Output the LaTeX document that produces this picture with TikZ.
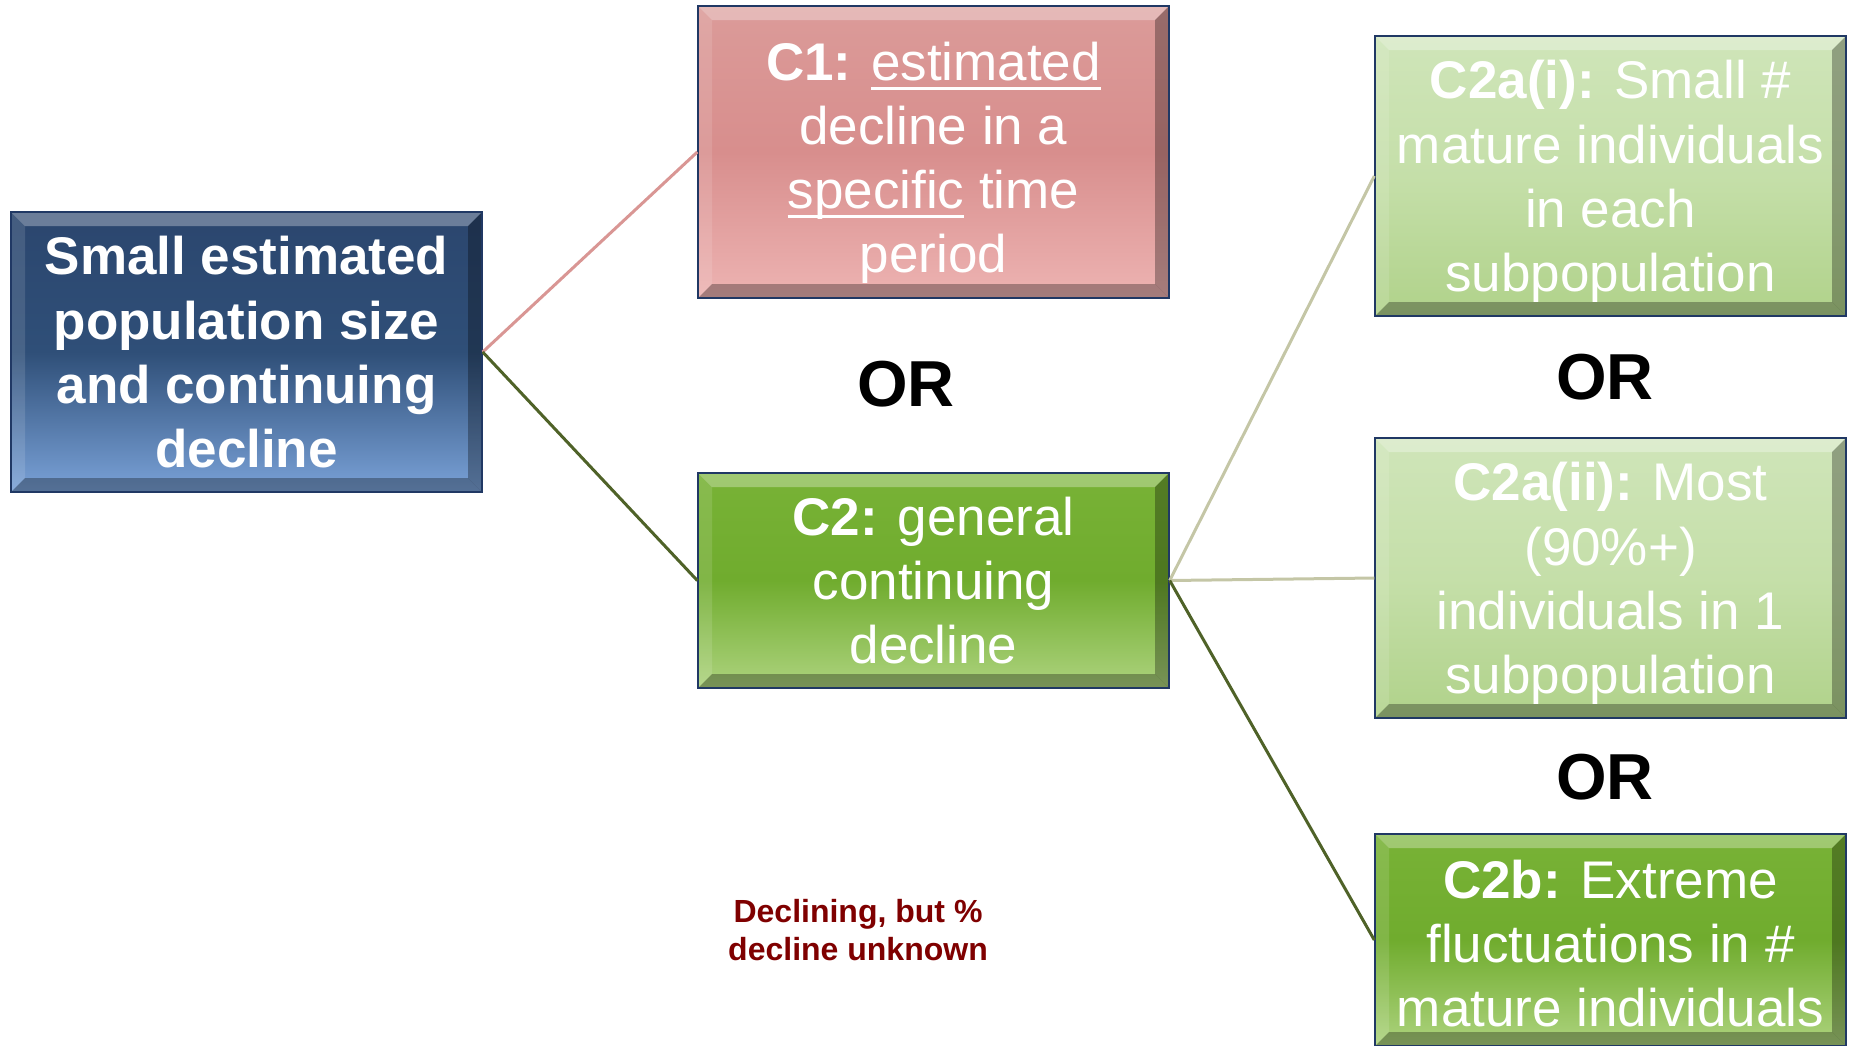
\documentclass[tikz,border=0pt]{standalone}
\usepackage{fontspec}
\setmainfont{Liberation Sans}
\usetikzlibrary{positioning}
\definecolor{boxedge}{HTML}{203864}
\definecolor{rosy}{HTML}{D99694}
\definecolor{olive}{HTML}{4F6228}
\definecolor{khaki}{HTML}{C4C6A6}
\definecolor{declred}{HTML}{7F0000}
\def\pb{path picture bounding box}
\newcommand\uln[1]{\setbox0\hbox{#1}\rlap{\rule[-9.5pt]{\wd0}{2.8pt}}\box0\relax}
\begin{document}
\begin{tikzpicture}[x=1pt,y=-1pt]
\tikzstyle{box}=[draw=boxedge,line width=1.4pt,minimum width=471pt,inner sep=0pt,
  align=center,text=white,text depth=0pt,font=\fontsize{53}{64.2}\selectfont,
  path picture={
    \fill[white,opacity=.3] (\pb.north west) -- (\pb.north east)
      -- ([xshift=-14pt,yshift=-14pt]\pb.north east) -- ([xshift=14pt,yshift=-14pt]\pb.north west) -- cycle;
    \fill[white,opacity=.12] (\pb.north west) -- (\pb.south west)
      -- ([xshift=14pt,yshift=14pt]\pb.south west) -- ([xshift=14pt,yshift=-14pt]\pb.north west) -- cycle;
    \fill[black,opacity=.3] (\pb.north east) -- (\pb.south east)
      -- ([xshift=-14pt,yshift=14pt]\pb.south east) -- ([xshift=-14pt,yshift=-14pt]\pb.north east) -- cycle;
    \fill[black,opacity=.3] (\pb.south west) -- (\pb.south east)
      -- ([xshift=-14pt,yshift=14pt]\pb.south east) -- ([xshift=14pt,yshift=14pt]\pb.south west) -- cycle;
  }]
\tikzstyle{navy}=[box,top color={rgb,255:red,43;green,70;blue,110},
  bottom color={rgb,255:red,122;green,162;blue,216},middle color={rgb,255:red,47;green,79;blue,120}]
\tikzstyle{rose}=[box,top color={rgb,255:red,219;green,155;blue,153},bottom color={rgb,255:red,237;green,179;blue,178},
  middle color={rgb,255:red,216;green,142;blue,141}]
\tikzstyle{grass}=[box,top color={rgb,255:red,120;green,178;blue,54},bottom color={rgb,255:red,173;green,211;blue,126},
  middle color={rgb,255:red,112;green,172;blue,46}]
\tikzstyle{pale}=[box,top color={rgb,255:red,207;green,229;blue,185},bottom color={rgb,255:red,176;green,210;blue,138},
  middle color={rgb,255:red,197;green,223;blue,169}]
\tikzstyle{or}=[font=\bfseries\fontsize{65}{70}\selectfont]
\useasboundingbox (0,0) rectangle (1854,1045);
% boxes
\node[navy,minimum height=280pt,font=\bfseries\fontsize{53}{64.2}\selectfont] (root) at (246.5,352)
  {Small estimated\\population size\\and continuing\\decline};
\node[rose,minimum height=292pt] (c1) at (933.5,152)
  {\rule{0pt}{49pt}\textbf{C1:} \uln{estimated}\\decline in a\\\uln{specific} time\\period};
\node[grass,minimum height=215pt] (c2) at (933.5,580.5)
  {\textbf{C2:} general\\continuing\\decline};
\node[pale,minimum height=280pt] (c2ai) at (1610.5,176)
  {\textbf{C2a(i):} Small \#\\mature individuals\\in each\\subpopulation};
\node[pale,minimum height=280pt] (c2aii) at (1610.5,578)
  {\textbf{C2a(ii):} Most\\(90\%+)\\individuals in 1\\subpopulation};
\node[grass,minimum height=212pt] (c2b) at (1610.5,940)
  {\rule{0pt}{45pt}\textbf{C2b:} Extreme\\fluctuations in \#\\mature individuals};
% labels
\node[or] (or1) at (906,384) {OR};
\node[or] (or2) at (1605,377) {OR};
\node[or] (or3) at (1605,777) {OR};
\node[align=center,text=declred,font=\bfseries\fontsize{32}{38}\selectfont] (note) at (858,930)
  {Declining, but \%\\decline unknown};
% links
\draw[rosy,line width=3pt] (root.east) -- (c1.west);
\draw[olive,line width=3pt] (root.east) -- (c2.west);
\draw[khaki,line width=3pt] (c2.east) -- (c2ai.west);
\draw[khaki,line width=3pt] (c2.east) -- (c2aii.west);
\draw[olive,line width=3pt] (c2.east) -- (c2b.west);
\end{tikzpicture}
\end{document}
